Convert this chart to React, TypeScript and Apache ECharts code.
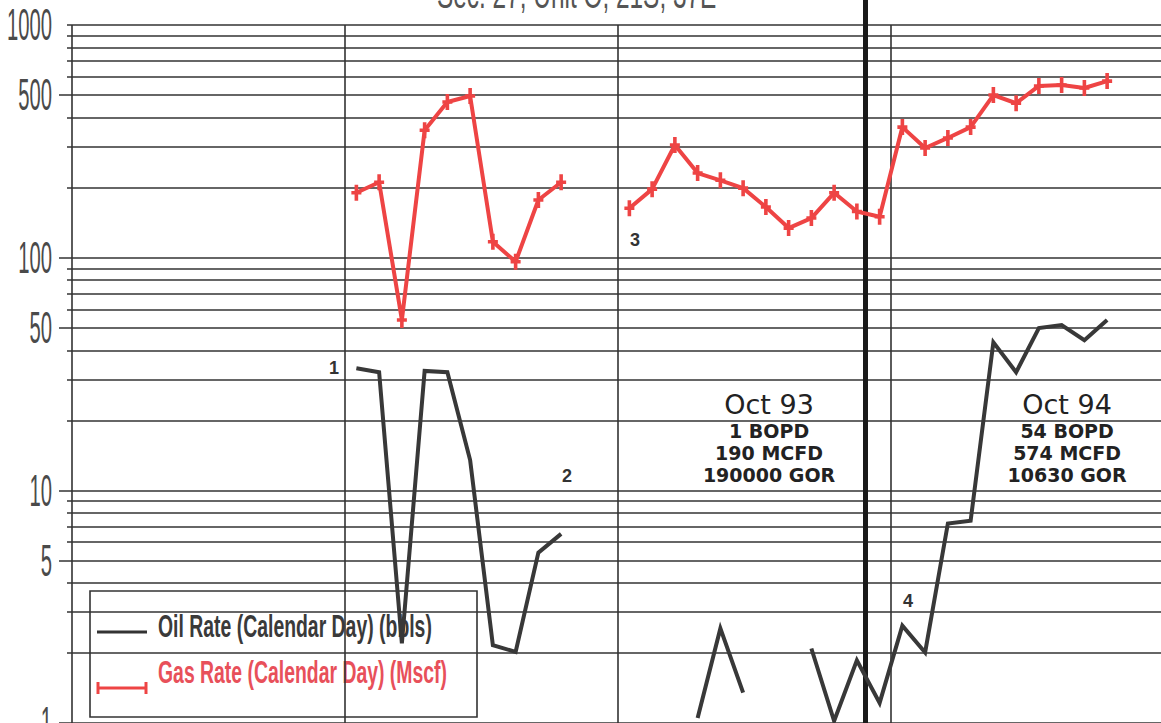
import React, { useEffect, useRef } from "react";
import * as echarts from "echarts";

// ---- data (months counted from Jan 1991 = 0) ----
const firstYear = 1991;
const yearStartMonths = [0, 12, 24, 36];
const oil1992 = [33.5, 32.2, 2.2, 32.6, 32.2, 13.5, 2.16, 2.02, 5.4, 6.5, null, null];
const oil1993 = [null, null, null, 1.05, 2.55, 1.35, null, null, 2.09, 1.02, 1.86, 1.22];
const oil1994 = [2.62, 2.01, 7.2, 7.4, 43.3, 32.2, 49.8, 51.3, 44.2, 54, null, null];
const gas1992 = [190, 211, 54, 353, 467, 495, 117, 96, 177, 211, null, null];
const gas1993 = [163, 197, 305, 231, 215, 199, 165, 134, 148, 190, 158, 150];
const gas1994 = [364, 296, 327, 364, 500, 461, 547, 552, 536, 574, null, null];

const yTickLabels = [1, 5, 10, 50, 100, 500, 1000];
const gridMajor = [1, 5, 10, 50, 100, 500];
const gridMinor = [2, 3, 4, 6, 7, 8, 9, 20, 30, 40, 60, 70, 80, 90, 200, 300, 400, 600, 700, 800, 900, 1000];
const workoverMonth = 34.86;

const pointLabels = [
  { text: "1", month: 11.52, value: 33.4 },
  { text: "2", month: 21.76, value: 11.56 },
  { text: "3", month: 24.75, value: 118.8 },
  { text: "4", month: 36.75, value: 3.35 },
];
const summaryNotes = [
  { title: "Oct 93", lines: ["1 BOPD", "190 MCFD", "190000 GOR"], month: 30.64, value: 16.9 },
  { title: "Oct 94", lines: ["54 BOPD", "574 MCFD", "10630 GOR"], month: 43.74, value: 16.9 },
];
const titleText = "Sec. 27, Unit O, 21S, 37E";
const legendNames = ["Oil Rate (Calendar Day) (bbls)", "Gas Rate (Calendar Day) (Mscf)"];

// ---- layout ----
const W = 1161;
const H = 723;
const PX_PER_MONTH = 22.75;
const AXIS_PX = 72;
const X_MIN = -AXIS_PX / PX_PER_MONTH;
const X_MAX = X_MIN + W / PX_PER_MONTH;
const Y_MAX = Math.pow(10, 3 + 25 / ((H - 25) / 3));

function toSeries(yearArrays: (number | null)[][], startYear: number) {
  const out: any[] = [];
  yearArrays.forEach((arr, yi) => {
    arr.forEach((v, m) => {
      const idx = (startYear - firstYear + yi) * 12 + m + 0.5;
      out.push([idx, v == null ? "-" : v]);
    });
  });
  return out;
}

const oilData = toSeries([oil1992, oil1993, oil1994], 1992);
const gasData = toSeries([gas1992, gas1993, gas1994], 1992);

const plusPath = "path://M3.2,0h3.6v6.2h3.2v3.6h-3.2v6.2h-3.6v-6.2h-3.2v-3.6h3.2z";

const LABEL_FONT = "'Liberation Sans', Arial, sans-serif";

export default function App() {
  const ref = useRef<HTMLDivElement>(null);
  useEffect(() => {
    if (!ref.current) return;
    const chart = echarts.init(ref.current, undefined, { renderer: "svg" });

    const majorStart = -13 / PX_PER_MONTH;
    const minorStart = -5 / PX_PER_MONTH;
    const gridLines: any[] = [];
    gridMajor.forEach((v) => gridLines.push([{ coord: [majorStart, v] }, { coord: [X_MAX, v] }]));
    gridMinor.forEach((v) => gridLines.push([{ coord: [minorStart, v] }, { coord: [X_MAX, v] }]));
    yearStartMonths.forEach((m) => gridLines.push([{ coord: [m, 1] }, { coord: [m, 1000] }]));

    const option: any = {
      animation: false,
      backgroundColor: "#ffffff",
      grid: { left: 0, right: 0, top: 0, bottom: 0, containLabel: false },
      xAxis: {
        type: "value",
        min: X_MIN,
        max: X_MAX,
        axisLine: { show: false },
        axisTick: { show: false },
        axisLabel: { show: false },
        splitLine: { show: false },
      },
      yAxis: {
        type: "log",
        logBase: 10,
        min: 1,
        max: Y_MAX,
        axisLine: { show: false },
        axisTick: { show: false },
        axisLabel: { show: false },
        splitLine: { show: false },
      },
      graphic: {
        elements: [
          {
            type: "text",
            x: 437,
            y: -6,
            scaleX: 0.61,
            z: 2,
            style: { text: titleText, fontSize: 40, fontFamily: LABEL_FONT, fill: "#555", align: "left", verticalAlign: "middle" },
          },
          {
            type: "rect",
            z: 2,
            shape: { x: 90, y: 591, width: 387, height: 126 },
            style: { fill: "#ffffff", stroke: "#333", lineWidth: 1.6 },
          },
          {
            type: "line",
            z: 2,
            z2: 5,
            shape: { x1: 97, y1: 632, x2: 147, y2: 632 },
            style: { stroke: "#333", lineWidth: 3 },
          },
          {
            type: "line",
            z: 2,
            z2: 5,
            shape: { x1: 98, y1: 688, x2: 146, y2: 688 },
            style: { stroke: "#ee4444", lineWidth: 3 },
          },
          {
            type: "line",
            z: 2,
            z2: 5,
            shape: { x1: 98, y1: 682, x2: 98, y2: 694 },
            style: { stroke: "#ee4444", lineWidth: 3 },
          },
          {
            type: "line",
            z: 2,
            z2: 5,
            shape: { x1: 146, y1: 682, x2: 146, y2: 694 },
            style: { stroke: "#ee4444", lineWidth: 3 },
          },
          {
            type: "text",
            x: 158,
            y: 626,
            scaleX: 0.626,
            z: 2,
            z2: 5,
            style: { text: legendNames[0], fontSize: 31, fontWeight: "bold", fontFamily: LABEL_FONT, fill: "#3a3a3a", align: "left", verticalAlign: "middle" },
          },
          {
            type: "text",
            x: 158,
            y: 672,
            scaleX: 0.626,
            z: 2,
            z2: 5,
            style: { text: legendNames[1], fontSize: 31, fontWeight: "bold", fontFamily: LABEL_FONT, fill: "#e8505a", align: "left", verticalAlign: "middle" },
          },
        ],
      },
      series: [
        {
          name: "grid",
          type: "line",
          z: 1,
          data: [[0, 1000]],
          showSymbol: false,
          lineStyle: { opacity: 0 },
          silent: true,
          markLine: {
            silent: true,
            symbol: ["none", "none"],
            label: { show: false },
            lineStyle: { color: "#333", width: 1.6, type: "solid" },
            data: gridLines,
          },
        },
        {
          name: legendNames[0],
          type: "line",
          z: 5,
          data: oilData,
          showSymbol: false,
          connectNulls: false,
          lineStyle: { color: "#383838", width: 4, join: "miter" },
          itemStyle: { color: "#383838" },
        },
        {
          name: legendNames[1],
          type: "line",
          z: 5,
          data: gasData,
          symbol: plusPath,
          symbolSize: [10, 16],
          showSymbol: true,
          connectNulls: false,
          lineStyle: { color: "#ee4444", width: 4 },
          itemStyle: { color: "#ee4444" },
        },
        {
          name: "workover",
          type: "line",
          z: 6,
          data: [[0, 1000]],
          showSymbol: false,
          lineStyle: { opacity: 0 },
          silent: true,
          markLine: {
            silent: true,
            symbol: ["none", "none"],
            label: { show: false },
            lineStyle: { color: "#1a1a1a", width: 5, type: "solid" },
            data: [{ xAxis: workoverMonth }],
          },
          markPoint: {
            silent: true,
            symbol: "circle",
            symbolSize: 1,
            itemStyle: { color: "rgba(0,0,0,0)" },
            data: [
              ...pointLabels.map((p) => ({
                coord: [p.month, p.value],
                label: {
                  show: true,
                  position: "inside",
                  formatter: p.text,
                  fontSize: 18,
                  fontWeight: "bold",
                  fontFamily: LABEL_FONT,
                  color: "#333",
                },
              })),
              ...summaryNotes.map((n) => ({
                coord: [n.month, n.value],
                label: {
                  show: true,
                  position: "inside",
                  align: "center",
                  formatter: ["{h|" + n.title + "}", ...n.lines.map((l) => "{t|" + l + "}")].join("\n"),
                  rich: {
                    h: { fontSize: 27, fontFamily: "'DejaVu Sans', sans-serif", color: "#222", lineHeight: 32, align: "center" },
                    t: { fontSize: 19, fontWeight: "bold", fontFamily: "'DejaVu Sans', sans-serif", color: "#222", lineHeight: 22, align: "center" },
                  },
                },
              })),
            ],
          },
        },
        {
          name: "yLabels",
          type: "custom",
          z: 7,
          silent: true,
          data: yTickLabels.map((v) => [0, v]),
          encode: { x: 0, y: 1 },
          renderItem: (_params: any, api: any) => {
            const v = api.value(1);
            const p = api.coord([0, v]);
            return {
              type: "text",
              x: p[0] - 20,
              y: p[1],
              scaleX: 0.46,
              style: {
                text: String(v),
                fontSize: 44,
                fontFamily: LABEL_FONT,
                fill: "#4a4a4a",
                align: "right",
                verticalAlign: "middle",
              },
            };
          },
        },
      ],
    };
    chart.setOption(option);
    return () => chart.dispose();
  }, []);
  return <div ref={ref} style={{ position: "fixed", left: 0, top: 0, width: W, height: H, background: "#fff" }} />;
}
